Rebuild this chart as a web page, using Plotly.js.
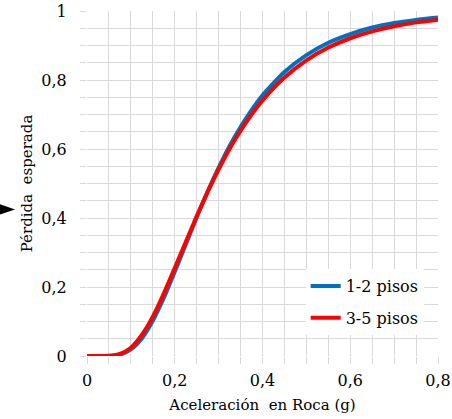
<!DOCTYPE html>
<html>
<head>
<meta charset="utf-8">
<script src="https://cdn.plot.ly/plotly-3.0.1.min.js"></script>
<style>html,body{margin:0;padding:0;background:#fff;}#chart{width:452px;height:419px;}</style>
</head>
<body>
<div id="chart"></div>
<script>
// Aceleración en roca (g)
const aceleracion = [0, 0.025, 0.05, 0.075, 0.1, 0.125, 0.15, 0.175, 0.2, 0.225, 0.25, 0.275, 0.3, 0.325, 0.35, 0.375, 0.4, 0.45, 0.5, 0.55, 0.6, 0.65, 0.7, 0.75, 0.8];
// Pérdida esperada, 1-2 pisos
const perdida12 = [0, 0, 0.0003, 0.004, 0.019, 0.051, 0.102, 0.168, 0.244, 0.323, 0.402, 0.477, 0.546, 0.609, 0.664, 0.713, 0.756, 0.823, 0.872, 0.908, 0.933, 0.952, 0.965, 0.974, 0.981];
// Pérdida esperada, 3-5 pisos
const perdida35 = [0, 0, 0.0005, 0.006, 0.024, 0.061, 0.114, 0.181, 0.255, 0.330, 0.405, 0.476, 0.541, 0.601, 0.653, 0.700, 0.741, 0.807, 0.857, 0.894, 0.921, 0.941, 0.956, 0.967, 0.975];
const seriesNames = ["1-2 pisos", "3-5 pisos"];
const xTicks = [0, 0.2, 0.4, 0.6, 0.8];
const yTicks = [0, 0.2, 0.4, 0.6, 0.8, 1];

const serif = "DejaVu Serif";
const gridColor = "#d9d9d9";

const traces = [
  {x: aceleracion, y: perdida12, name: seriesNames[0], mode: "lines", legendgroup: "a",
   line: {color: "#0070C0", width: 4, shape: "spline", smoothing: 0.6}},
  {x: aceleracion, y: perdida35, name: seriesNames[1], mode: "lines", legendgroup: "b",
   line: {color: "#FF0000", width: 4, shape: "spline", smoothing: 0.6}}
];

const layout = {
  width: 452, height: 419,
  margin: {l: 87, r: 14, t: 11, b: 63},
  paper_bgcolor: "#fff", plot_bgcolor: "#fff",
  separators: ",.",
  font: {family: serif, size: 16, color: "#000"},
  showlegend: true,
  legend: {
    x: 0.623, xanchor: "left", y: 0.252, yanchor: "top",
    bgcolor: "#fff", borderwidth: 0,
    font: {family: serif, size: 16, color: "#000"},
    tracegroupgap: 8, traceorder: "grouped"
  },
  xaxis: {
    range: [0, 0.8], tickvals: xTicks, ticktext: xTicks.map(v => String(v).replace(".", ",")),
    showgrid: true, gridcolor: gridColor, gridwidth: 1,
    zeroline: false, showline: false,
    ticks: "outside", ticklen: 7, tickcolor: gridColor,
    minor: {dtick: 0.05, showgrid: true, gridcolor: gridColor, ticks: "outside", ticklen: 7, tickcolor: gridColor},
    tickfont: {family: serif, size: 16},
    ticklabelstandoff: 3,
    title: {text: "Aceleración  en Roca (g)", font: {family: serif, size: 15}, standoff: 10},
    fixedrange: true
  },
  yaxis: {
    range: [0, 1], tickvals: yTicks, ticktext: yTicks.map(v => String(v).replace(".", ",")),
    showgrid: true, gridcolor: gridColor, gridwidth: 1,
    zeroline: false, showline: false,
    ticks: "outside", ticklen: 6, tickcolor: gridColor,
    minor: {dtick: 0.05, showgrid: true, gridcolor: gridColor, ticks: "outside", ticklen: 6, tickcolor: gridColor},
    tickfont: {family: serif, size: 16},
    ticklabelstandoff: 10,
    title: {text: "Pérdida  esperada", font: {family: serif, size: 15}, standoff: 5},
    fixedrange: true
  },
  shapes: [
    {type: "path", xref: "paper", yref: "paper",
     path: "M -0.248,0.440 L -0.205,0.425 L -0.248,0.410 Z",
     fillcolor: "#000", line: {width: 0}}
  ]
};

Plotly.newPlot("chart", traces, layout, {displayModeBar: false, staticPlot: true});
</script>
</body>
</html>
